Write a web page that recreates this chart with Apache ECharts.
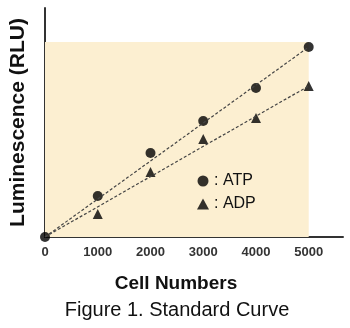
<!DOCTYPE html>
<html><head><meta charset="utf-8">
<script src="https://cdn.jsdelivr.net/npm/echarts@6/dist/echarts.min.js"></script>
<style>html,body{margin:0;padding:0;background:#fff}#c{width:350px;height:328px}</style>
</head><body><div id="c"></div>
<script>
const cells = [0, 1000, 2000, 3000, 4000, 5000];
const atp = [0, 41, 84, 116, 149, 190];
const adp = [0, 23, 65, 98, 119, 151];
const atpFit = [[0, 0], [5000, 190]];
const adpFit = [[0, 0], [5000, 151]];
const xTicks = ['0', '1000', '2000', '3000', '4000', '5000'];
const shadeTop = 195;

const chart = echarts.init(document.getElementById('c'), null, {renderer: 'canvas'});
const font = '"Liberation Sans", Arial, sans-serif';
chart.setOption({
  animation: false,
  textStyle: {fontFamily: font},
  grid: {left: 41, top: 8, right: 7, bottom: 91},
  title: {
    text: 'Figure 1. Standard Curve', left: 172, textAlign: 'center', top: 295,
    textStyle: {fontFamily: font, fontWeight: 'normal', fontSize: 20, color: '#111'}
  },
  legend: {
    orient: 'vertical', left: 192, top: 168, itemGap: 7, itemWidth: 12, itemHeight: 11,
    data: [{name: 'ATP', icon: 'circle'}, {name: 'ADP', icon: 'triangle'}],
    formatter: n => ': ' + n,
    textStyle: {fontFamily: font, fontSize: 16, color: '#111'}
  },
  xAxis: {
    type: 'value', min: 0, max: 5650, interval: 1000,
    name: 'Cell Numbers', nameLocation: 'middle', nameGap: 37,
    nameTextStyle: {fontFamily: font, fontWeight: 'bold', fontSize: 19, color: '#111', padding: [0, 36, 0, 0]},
    axisLine: {lineStyle: {color: '#333', width: 2}},
    axisTick: {show: false}, splitLine: {show: false},
    axisLabel: {fontFamily: font, fontWeight: 'bold', fontSize: 13, color: '#333', margin: 9,
      formatter: v => xTicks.includes(String(v)) ? String(v) : ''}
  },
  yAxis: {
    type: 'value', min: 0, max: 229,
    name: 'Luminescence (RLU)', nameLocation: 'middle', nameGap: 16, nameRotate: 90,
    nameTextStyle: {fontFamily: font, fontWeight: 'bold', fontSize: 21, color: '#111'},
    axisLine: {show: true, lineStyle: {color: '#333', width: 2}},
    axisTick: {show: false}, splitLine: {show: false}, axisLabel: {show: false}
  },
  series: [
    {
      name: 'shade', type: 'line', data: [], silent: true,
      markArea: {silent: true, itemStyle: {color: '#FCEFD1'}, data: [[{coord: [0, 0]}, {coord: [5000, shadeTop]}]]}
    },
    {name: 'atpFit', type: 'line', data: atpFit, symbol: 'none', silent: true,
      lineStyle: {color: '#444', width: 1.2, type: [3, 2]}},
    {name: 'adpFit', type: 'line', data: adpFit, symbol: 'none', silent: true,
      lineStyle: {color: '#444', width: 1.2, type: [3, 2]}},
    {name: 'ATP', type: 'scatter', data: cells.map((c, i) => [c, atp[i]]), symbol: 'circle', symbolSize: 10,
      itemStyle: {color: '#000'}},
    {name: 'ADP', type: 'scatter', data: cells.slice(1).map((c, i) => [c, adp[i + 1]]), symbol: 'triangle', symbolSize: 10,
      itemStyle: {color: '#000'}}
  ]
});
</script></body></html>
